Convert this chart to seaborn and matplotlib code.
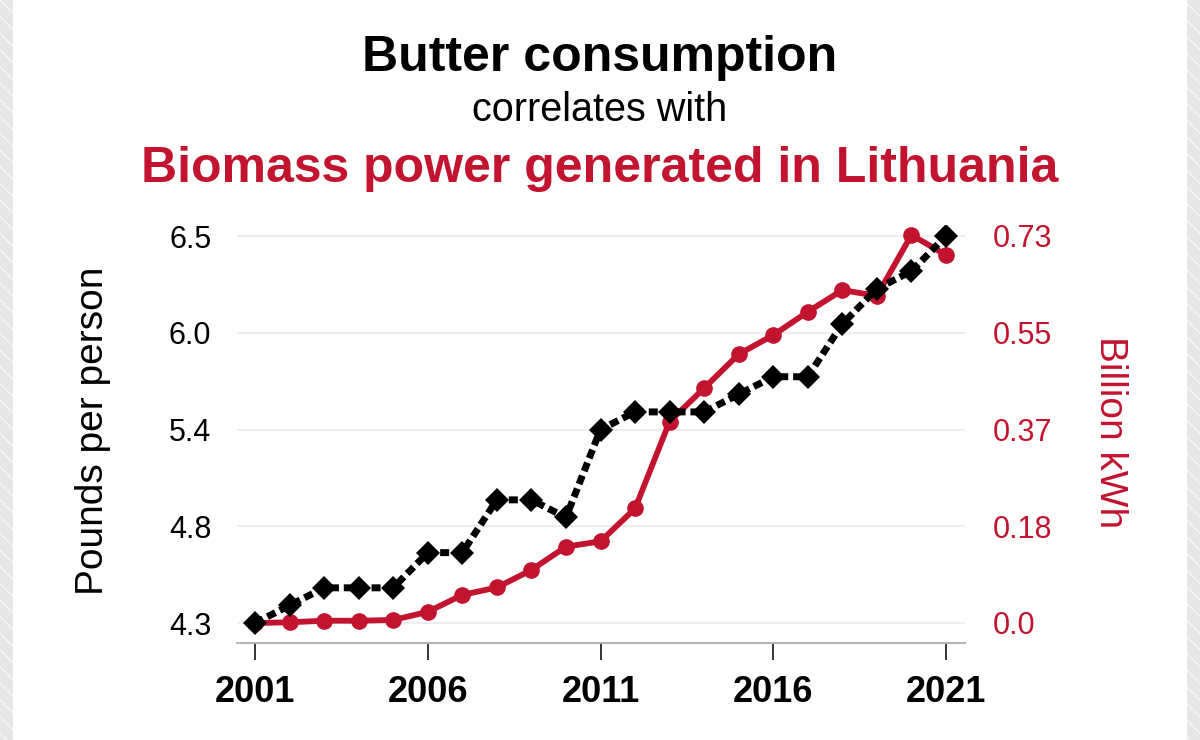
import numpy as np
import pandas as pd
import seaborn as sns
import matplotlib.pyplot as plt
from matplotlib.patches import Rectangle

# data
years = list(range(2001, 2022))
butter = [4.3, 4.4, 4.5, 4.5, 4.5, 4.7, 4.7, 5.0, 5.0, 4.9, 5.4,
          5.5, 5.5, 5.5, 5.6, 5.7, 5.7, 6.0, 6.2, 6.3, 6.5]
biomass = [0.0, 0.0013, 0.0043, 0.0043, 0.0057, 0.021, 0.053, 0.067, 0.100, 0.144, 0.154,
           0.216, 0.380, 0.443, 0.507, 0.543, 0.587, 0.628, 0.617, 0.732, 0.694]
left_labels = ['4.3', '4.8', '5.4', '6.0', '6.5']
right_labels = ['0.0', '0.18', '0.37', '0.55', '0.73']
year_ticks = [2001, 2006, 2011, 2016, 2021]

df = pd.DataFrame({'year': years, 'butter': butter, 'biomass': biomass})

RED = '#c2132f'

sns.set_style('white')
plt.rcParams['font.family'] = ['Liberation Sans', 'DejaVu Sans']
plt.rcParams['text.color'] = 'black'

fig = plt.figure(figsize=(12, 7.4), dpi=100)
fig.patch.set_facecolor('white')

# grey hatched strips at the card edges
for x0 in (0, 1187 / 1200):
    fig.add_artist(Rectangle((x0, 0), 13 / 1200, 1, transform=fig.transFigure,
                             facecolor='#e6e6e6', edgecolor='#f8f8f8',
                             hatch='\\\\', linewidth=0, zorder=0))

ax = fig.add_axes([237 / 1200, 1 - 643 / 740, 728 / 1200, 418 / 740])
ax2 = ax.twinx()
ax.set_zorder(ax2.get_zorder() + 1)
ax.patch.set_visible(False)

sns.lineplot(data=df, x='year', y='biomass', ax=ax2, color=RED, linewidth=4.2,
             marker='o', markersize=12, markeredgewidth=0, legend=False)
sns.lineplot(data=df, x='year', y='butter', ax=ax, color='black', linewidth=5,
             linestyle=(0, (1.3, 0.7)), marker='D', markersize=12.5,
             markeredgewidth=0, legend=False)

l_min, l_max = min(butter), max(butter)
r_min, r_max = 0.0, 0.73
l_span = (l_max - l_min) / 387
r_span = (r_max - r_min) / 387
ax.set_ylim(l_min - 20 * l_span, l_max + 11 * l_span)
ax2.set_ylim(r_min - 20 * r_span, r_max + 11 * r_span)
ax.set_xlim(2001 - 18 / 34.55, 2021 + 19 / 34.55)

ax.set_yticks(np.linspace(l_min, l_max, 5))
ax.set_yticklabels(left_labels)
ax2.set_yticks(np.linspace(r_min, r_max, 5))
ax2.set_yticklabels(right_labels)
ax.set_xticks(year_ticks)
ax.set_xticklabels([str(y) for y in year_ticks], fontweight='bold')

ax.tick_params(axis='y', left=False, length=0, pad=18.5, labelsize=22, labelcolor='black')
ax2.tick_params(axis='y', right=False, length=0, pad=20, labelsize=22, labelcolor=RED)
ax.tick_params(axis='x', bottom=True, direction='out', length=12, width=1.1,
               color='black', pad=11, labelsize=26, labelcolor='black')

ax.set_xlabel('')
ax.set_ylabel('')
ax2.set_ylabel('')
ax2.yaxis.grid(True, color='#eeeeee', linewidth=1.6)
ax2.xaxis.grid(False)
ax.grid(False)

for s in ['left', 'right', 'top']:
    ax.spines[s].set_visible(False)
for s in ax2.spines.values():
    s.set_visible(False)
ax.spines['bottom'].set_color('#b5b5b5')
ax.spines['bottom'].set_linewidth(1.5)

fig.text(0.5, 1 - 71 / 740, 'Butter consumption', ha='center', va='baseline',
         fontsize=36, fontweight='bold', color='black')
fig.text(0.5, 1 - 121 / 740, 'correlates with', ha='center', va='baseline',
         fontsize=28.5, color='black')
fig.text(0.5, 1 - 182.5 / 740, 'Biomass power generated in Lithuania', ha='center',
         va='baseline', fontsize=36, fontweight='bold', color=RED)

fig.text(93 / 1200, 1 - 431 / 740, 'Pounds per person', rotation=90, ha='center',
         va='center', fontsize=28, color='black')
fig.text(1110 / 1200, 1 - 432 / 740, 'Billion kWh', rotation=270, ha='center',
         va='center', fontsize=28, color=RED)

fig.savefig('out.png', dpi=100)
